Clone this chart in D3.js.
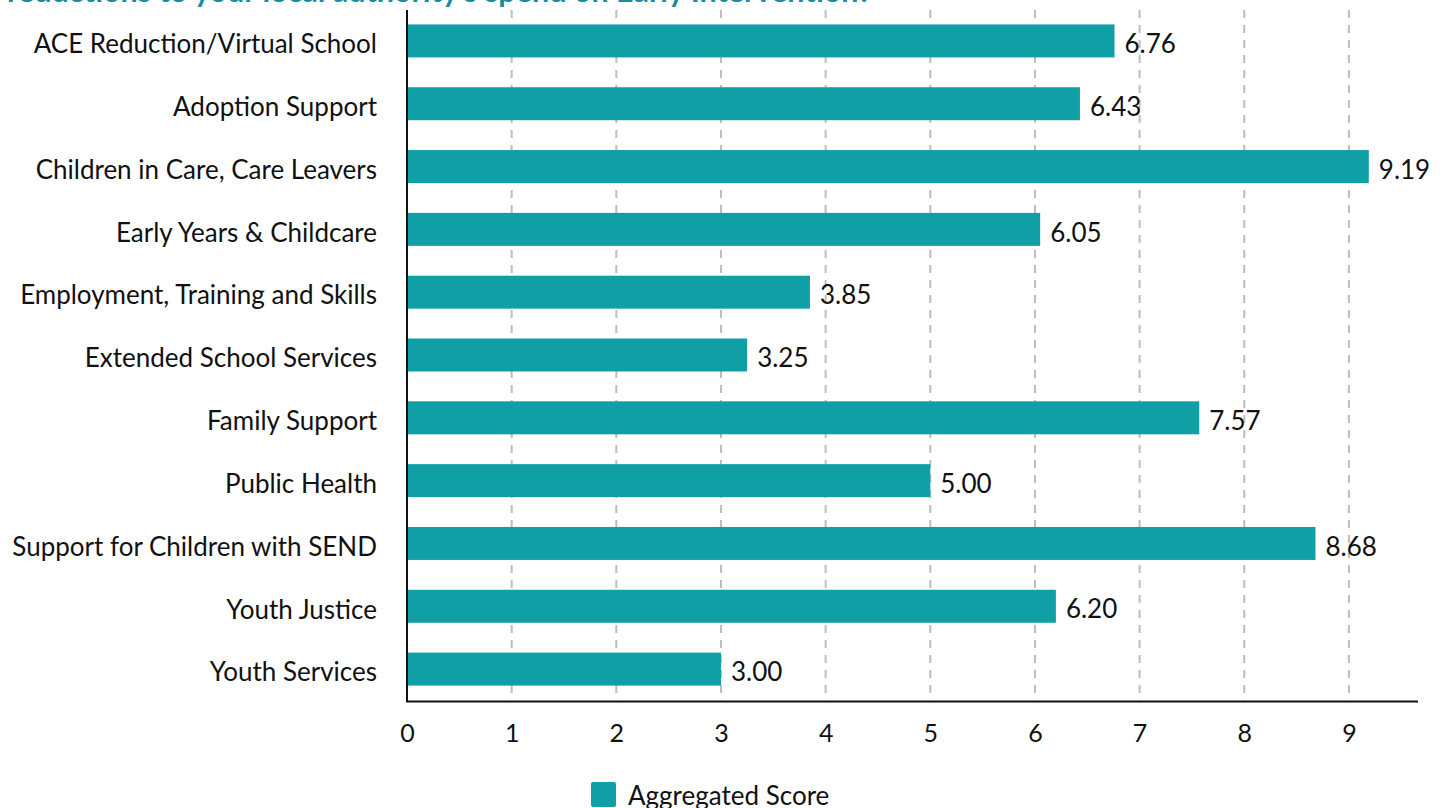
<!DOCTYPE html>
<html>
<head>
<meta charset="utf-8">
<script src="https://cdn.jsdelivr.net/npm/d3@7"></script>
<style>
  html, body { margin: 0; padding: 0; background: #fff; }
  svg { display: block; font-family: Lato, "Open Sans", sans-serif; }
</style>
</head>
<body>
<svg id="chart" width="1444" height="808"></svg>
<script>
// Survey categories and their aggregated scores
const categories = [
  "ACE Reduction/Virtual School",
  "Adoption Support",
  "Children in Care, Care Leavers",
  "Early Years & Childcare",
  "Employment, Training and Skills",
  "Extended School Services",
  "Family Support",
  "Public Health",
  "Support for Children with SEND",
  "Youth Justice",
  "Youth Services"
];
const scores = [6.76, 6.43, 9.19, 6.05, 3.85, 3.25, 7.57, 5.00, 8.68, 6.20, 3.00];
const xTicks = [0, 1, 2, 3, 4, 5, 6, 7, 8, 9];
const seriesName = "Aggregated Score";
const titleText = "reductions to your local authority's spend on Early Intervention?";

const data = categories.map((c, i) => ({ category: c, value: scores[i] }));

const barColor = "#109fa5";
const svg = d3.select("#chart");

const plotLeft = 407, plotRight = 1418, plotTop = 9.5, plotBottom = 700.5;

const x = d3.scaleLinear().domain([0, 9.66]).range([plotLeft, plotRight]);
const y = d3.scaleBand().domain(categories).range([plotTop, plotBottom]).paddingInner(0.475).paddingOuter(0.2375);

// Title (runs off the top edge)
svg.append("text")
  .attr("x", 7).attr("y", 2)
  .attr("fill", "#1a8c9c")
  .attr("font-weight", "bold")
  .attr("font-size", 30.5)
  .text(titleText);

// Dashed vertical gridlines
svg.append("g")
  .selectAll("line")
  .data(xTicks.filter(t => t > 0))
  .join("line")
  .attr("x1", d => x(d)).attr("x2", d => x(d))
  .attr("y1", 10).attr("y2", plotBottom)
  .attr("stroke", "#bdbdbd")
  .attr("stroke-width", 2)
  .attr("stroke-dasharray", "8,7");

// Bars
svg.append("g")
  .selectAll("rect")
  .data(data)
  .join("rect")
  .attr("x", x(0))
  .attr("y", d => y(d.category))
  .attr("width", d => x(d.value) - x(0))
  .attr("height", y.bandwidth())
  .attr("fill", barColor);

// Value labels
svg.append("g")
  .selectAll("text")
  .data(data)
  .join("text")
  .attr("x", d => x(d.value) + 10)
  .attr("y", d => y(d.category) + y.bandwidth() / 2)
  .attr("dy", "0.47em")
  .attr("font-size", 26)
  .attr("fill", "#111")
  .text(d => d.value.toFixed(2));

// Category axis
const yAxis = svg.append("g")
  .attr("transform", `translate(${plotLeft},0)`)
  .call(d3.axisLeft(y).tickSize(0).tickPadding(30));
yAxis.select(".domain").remove();
yAxis.selectAll("text")
  .attr("font-size", 26).attr("fill", "#111")
  .attr("font-family", "Lato, sans-serif")
  .attr("dy", "0.47em");
svg.append("line")
  .attr("x1", plotLeft).attr("x2", plotLeft)
  .attr("y1", 10).attr("y2", plotBottom + 1)
  .attr("stroke", "#111").attr("stroke-width", 2);

// Value axis
const xAxis = svg.append("g")
  .attr("transform", `translate(0,${plotBottom})`)
  .call(d3.axisBottom(x).tickValues(xTicks).tickFormat(d3.format("d")).tickSize(0).tickPadding(24));
xAxis.select(".domain").remove();
xAxis.selectAll("text").attr("font-size", 25).attr("fill", "#111").attr("font-family", "Lato, sans-serif");
svg.append("line")
  .attr("x1", plotLeft - 1).attr("x2", plotRight)
  .attr("y1", plotBottom + 1).attr("y2", plotBottom + 1)
  .attr("stroke", "#111").attr("stroke-width", 2);

// Legend
const legend = svg.append("g").attr("transform", "translate(591,782)");
legend.append("rect")
  .attr("width", 25).attr("height", 25).attr("rx", 2)
  .attr("fill", barColor);
legend.append("text")
  .attr("x", 37).attr("y", 13)
  .attr("dy", "0.4em")
  .attr("font-size", 26)
  .attr("fill", "#111")
  .text(seriesName);
</script>
</body>
</html>
